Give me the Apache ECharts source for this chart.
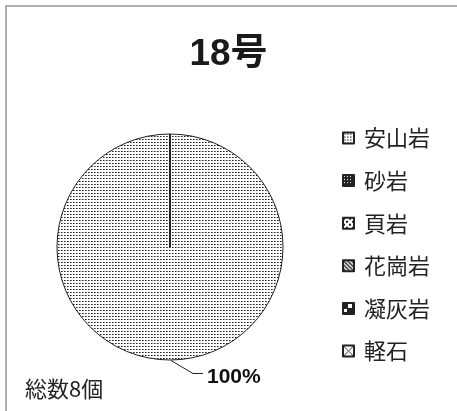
<!DOCTYPE html>
<html>
<head>
<meta charset="utf-8">
<script src="https://cdn.jsdelivr.net/npm/echarts@6/dist/echarts.min.js"></script>
<style>
  html, body { margin: 0; padding: 0; background: #fff; }
  #chart { width: 457px; height: 411px; }
</style>
</head>
<body>
<div id="chart"></div>
<script>
// rock types and counts for sample 18
const rockNames = ['安山岩', '砂岩', '頁岩', '花崗岩', '凝灰岩', '軽石'];
const rockCounts = [8, 0, 0, 0, 0, 0];
const titleText = '18号';
const totalText = '総数8個';

// small canvas patterns, one per rock type
const makePattern = (size, draw) => {
    const c = document.createElement('canvas');
    c.width = size; c.height = size;
    const ctx = c.getContext('2d');
    ctx.fillStyle = '#fff';
    ctx.fillRect(0, 0, size, size);
    draw(ctx);
    return { image: c, repeat: 'repeat' };
};

const patterns = [
    makePattern(3, ctx => { ctx.fillStyle = '#222'; ctx.fillRect(1, 1, 1, 1); ctx.fillStyle = '#777'; ctx.fillRect(2, 1, 1, 1); }),
    makePattern(3, ctx => { ctx.fillStyle = '#222'; ctx.fillRect(0, 0, 3, 3); ctx.fillStyle = '#fff'; ctx.fillRect(1, 1, 1, 1); }),
    makePattern(6, ctx => { ctx.fillStyle = '#222'; ctx.fillRect(0, 0, 2, 2); ctx.fillRect(3, 3, 2, 2); }),
    makePattern(4, ctx => {
        ctx.strokeStyle = '#222'; ctx.lineWidth = 1.4;
        ctx.beginPath(); ctx.moveTo(-1, -1); ctx.lineTo(5, 5); ctx.moveTo(-1, 3); ctx.lineTo(1, 5); ctx.moveTo(3, -1); ctx.lineTo(5, 1); ctx.stroke();
    }),
    makePattern(10, ctx => { ctx.fillStyle = '#222'; ctx.fillRect(0, 0, 10, 10); ctx.fillStyle = '#fff'; ctx.fillRect(5, 1, 4, 4); ctx.fillRect(1, 6, 3, 3); }),
    makePattern(11, ctx => {
        ctx.strokeStyle = '#333'; ctx.lineWidth = 1;
        ctx.beginPath(); ctx.moveTo(0, 0); ctx.lineTo(11, 11); ctx.moveTo(11, 0); ctx.lineTo(0, 11); ctx.stroke();
    })
];

const chart = echarts.init(document.getElementById('chart'));

const option = {
    backgroundColor: '#fff',
    animation: false,
    title: {
        text: titleText,
        left: 'center',
        top: 31,
        textStyle: { fontFamily: '"Liberation Sans Narrow", "Liberation Sans", "Noto Sans CJK JP"', fontWeight: 'bold', fontSize: 37, color: '#1a1a1a' }
    },
    legend: {
        orient: 'vertical',
        left: 337,
        top: 122,
        icon: 'rect',
        itemWidth: 11,
        itemHeight: 11,
        itemGap: 20.6,
        selectedMode: false,
        data: rockNames,
        textStyle: { fontFamily: '"Noto Sans CJK JP"', fontSize: 22, color: '#222', padding: [0, 0, 0, 5] }
    },
    graphic: [
        {
            type: 'rect',
            shape: { x: 6, y: 6, width: 520, height: 480 },
            style: { fill: 'none', stroke: '#999', lineWidth: 1.6 },
            silent: true
        },
        {
            type: 'text',
            left: 25,
            top: 378,
            style: { text: totalText, font: '22px "Noto Sans CJK JP"', fill: '#222' }
        }
    ],
    series: [{
        type: 'pie',
        center: [170, 247],
        radius: 113,
        startAngle: 90,
        clockwise: true,
        percentPrecision: 0,
        stillShowZeroSum: true,
        itemStyle: { borderColor: '#222', borderWidth: 1 },
        emphasis: { disabled: true },
        label: {
            show: true,
            position: 'outside',
            formatter: '{d}%',
            fontFamily: '"Liberation Sans Narrow", "Liberation Sans"',
            fontWeight: 'bold',
            fontSize: 21,
            color: '#111'
        },
        labelLine: { show: true, length: 15, length2: 10, lineStyle: { color: '#222', width: 1 } },
        labelLayout: params => {
            if (params.dataIndex !== 0) return;
            const bx = params.rect.x + params.rect.width / 2;
            const by = params.rect.y + params.rect.height;
            return {
                x: bx + 37,
                y: by + 17,
                align: 'left',
                verticalAlign: 'middle',
                labelLinePoints: [[bx + 1, by], [bx + 23, by + 13], [bx + 33, by + 13]]
            };
        },
        data: rockNames.map((name, i) => ({
            name: name,
            value: rockCounts[i],
            itemStyle: { color: patterns[i] },
            label: { show: rockCounts[i] > 0 },
            labelLine: { show: rockCounts[i] > 0 }
        }))
    }]
};

chart.setOption(option);
</script>
</body>
</html>
